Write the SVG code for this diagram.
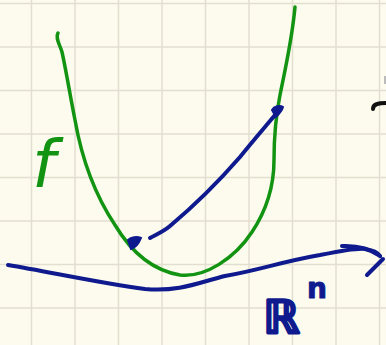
<svg xmlns="http://www.w3.org/2000/svg" width="386" height="345" viewBox="0 0 386 345">
<style>
.grid line{stroke:#e2dfd0;stroke-width:1.5}
.g{fill:none;stroke:#129412;stroke-width:3.5;stroke-linecap:round;stroke-linejoin:round}
.b{fill:none;stroke:#0e1a8e;stroke-width:4;stroke-linecap:round;stroke-linejoin:round}
.bt{fill:#0e1a8e;stroke:#0e1a8e;stroke-linejoin:round;font-family:"DejaVu Sans",sans-serif}
</style>
<rect width="386" height="345" fill="#fdfbed"/>
<g class="grid">
<line x1="31.5" y1="0" x2="31.5" y2="345"/><line x1="75" y1="0" x2="75" y2="345"/><line x1="118.5" y1="0" x2="118.5" y2="345"/><line x1="162" y1="0" x2="162" y2="345"/><line x1="205.5" y1="0" x2="205.5" y2="345"/><line x1="249" y1="0" x2="249" y2="345"/><line x1="292.5" y1="0" x2="292.5" y2="345"/><line x1="336" y1="0" x2="336" y2="345"/><line x1="379.5" y1="0" x2="379.5" y2="345"/>
<line x1="0" y1="3.5" x2="386" y2="3.5"/><line x1="0" y1="47" x2="386" y2="47"/><line x1="0" y1="90.5" x2="386" y2="90.5"/><line x1="0" y1="134" x2="386" y2="134"/><line x1="0" y1="177.5" x2="386" y2="177.5"/><line x1="0" y1="221" x2="386" y2="221"/><line x1="0" y1="264.5" x2="386" y2="264.5"/><line x1="0" y1="308" x2="386" y2="308"/>
</g>
<g id="function-f">
<path class="g" d="M58,33 C55,38 60,45 62,52 C66,70 70,95 75,120 C82,160 95,195 115,225 C130,250 150,270 180,275 C205,278 235,258 252,232 C268,208 274,185 274,160 C274,135 276,115 280,95 C285,70 292,40 295,7"/>
<text x="32" y="187" font-family="DejaVu Sans,sans-serif" font-style="italic" font-size="66" fill="#129412">f</text>
</g>
<g id="connectors">
<path class="b" d="M150,238 C155,235 163,232 170,226 C195,205 220,180 240,157 C252,142 265,127 275,115"/>
<path d="M272,110 C274,106 280,105 283,107 C282,111 279,114 276,117 Z" fill="#0e1a8e" stroke="#0e1a8e" stroke-width="2"/>
<path d="M128,240 C131,237 137,236 141,238 C139,243 135,248 131,249 Z" fill="#0e1a8e" stroke="#0e1a8e" stroke-width="2"/>
<path class="b" d="M8,265 C50,272 100,283 145,289 C180,292 200,282 225,276 C260,270 280,262 320,255 C340,251 355,248 365,249 C372,250 378,253 380,256"/>
<path class="b" d="M342,246 Q365,245 380,256 M367,275 L383,259"/>
</g>
<g id="label-Rn">
<text class="bt" x="263" y="333" font-size="46" stroke-width="3">ℝ</text>
<text class="bt" x="307" y="298" font-size="28" font-weight="bold" stroke-width="1">n</text>
</g>
<g id="edge-marks">
<path d="M373,109 C373,104 378,103 386,103" fill="none" stroke="#111" stroke-width="4" stroke-linecap="round"/>
<path d="M385,76 L385,84" stroke="#bbb" stroke-width="2"/>
</g>
</svg>
